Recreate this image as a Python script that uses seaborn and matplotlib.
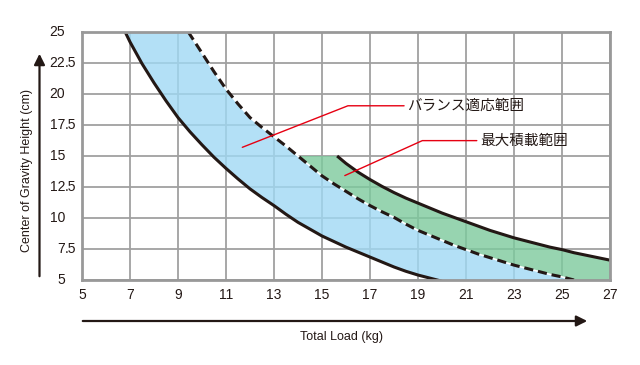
import matplotlib
matplotlib.use("Agg")
import matplotlib.pyplot as plt
import seaborn as sns
import numpy as np

# curve readings (Total Load kg -> Center of Gravity Height cm)
lower_x = [6.8, 7, 7.5, 8, 8.5, 9, 9.5, 10, 10.5, 11, 11.5, 12, 12.5, 13, 13.5, 14,
           14.5, 15, 15.5, 16, 16.5, 17, 17.5, 18, 18.5, 19, 19.5, 20]
lower_y = [25.0, 24.2, 22.45, 20.9, 19.45, 18.1, 16.95, 15.9, 14.9, 14.0, 13.15, 12.35,
           11.65, 11.0, 10.3, 9.65, 9.1, 8.55, 8.1, 7.65, 7.25, 6.85, 6.45, 6.05, 5.7,
           5.4, 5.15, 4.9]

dash_x = [9.43, 10, 10.5, 11, 11.5, 12, 12.5, 13, 13.5, 14, 14.5, 15, 15.5, 16, 16.5,
          17, 17.5, 18, 18.5, 19, 19.5, 20, 20.5, 21, 21.5, 22, 22.5, 23, 23.5, 24,
          24.5, 25, 25.5]
dash_y = [25.0, 23.3, 21.8, 20.4, 19.2, 18.1, 17.3, 16.55, 15.8, 15.0, 14.2, 13.4,
          12.75, 12.15, 11.55, 11.0, 10.5, 10.05, 9.5, 9.0, 8.6, 8.2, 7.8, 7.45, 7.1,
          6.8, 6.5, 6.2, 5.95, 5.7, 5.45, 5.25, 5.0]

upper_x = [15.63, 16, 16.5, 17, 17.5, 18, 18.5, 19, 19.5, 20, 20.5, 21, 21.5, 22, 22.5,
           23, 23.5, 24, 24.5, 25, 25.5, 26, 26.5, 27]
upper_y = [15.0, 14.4, 13.7, 13.1, 12.55, 12.05, 11.6, 11.2, 10.8, 10.4, 10.05, 9.7,
           9.35, 9.0, 8.7, 8.4, 8.15, 7.9, 7.65, 7.45, 7.2, 7.0, 6.8, 6.6]

x_ticks = [5, 7, 9, 11, 13, 15, 17, 19, 21, 23, 25, 27]
y_ticks = [5, 7.5, 10, 12.5, 15, 17.5, 20, 22.5, 25]

label_balance = "バランス適応範囲"
label_maxload = "最大積載範囲"

sns.set_theme(style="white")
plt.rcParams['font.family'] = ['Liberation Sans Narrow', 'Liberation Sans', 'DejaVu Sans']

fig = plt.figure(figsize=(6.4, 3.65), dpi=100)
ax = fig.add_axes([82 / 640, 1 - 280 / 365, 528 / 640, 248 / 365])
ax.set_xlim(5, 27)
ax.set_ylim(5, 25)

ink = '#231815'
blue = '#a0d9f4'
green = '#7dca9d'

# grid sits under the semi-transparent bands
ax.set_xticks(x_ticks)
ax.set_yticks(y_ticks)
ax.grid(True, color='#a0a0a0', lw=1.3, zorder=0)
ax.set_axisbelow(True)

# blue band: lower solid curve, along the bottom edge, dashed curve back
ax.fill(np.r_[lower_x, dash_x[-1:], dash_x[::-1]], np.r_[lower_y, dash_y[-1:], dash_y[::-1]],
        color=blue, alpha=0.8, lw=0, zorder=1)

# green band: dashed from y=15 down, bottom-right corner, upper solid back
i14 = dash_x.index(14)
gx = np.r_[dash_x[i14:], [27], upper_x[::-1]]
gy = np.r_[dash_y[i14:], [5.0], upper_y[::-1]]
ax.fill(gx, gy, color=green, alpha=0.8, lw=0, zorder=1)

line_kw = dict(color=ink, lw=2.2, sort=False, zorder=3,
               solid_joinstyle='round', solid_capstyle='butt')
sns.lineplot(x=lower_x, y=lower_y, ax=ax, **line_kw)
sns.lineplot(x=upper_x, y=upper_y, ax=ax, **line_kw)
ax.plot(dash_x, dash_y, color='white', lw=1.2, zorder=3)
ax.plot(dash_x, dash_y, color=ink, lw=2.2, dashes=(3, 1.6), zorder=4)

for s in ax.spines.values():
    s.set_color('#999999')
    s.set_linewidth(2)
    s.set_zorder(5)

# tick labels: x centred, y aligned on the decimal point
ax.set_xticklabels([str(v) for v in x_ticks], fontsize=10, color=ink)
ax.tick_params(axis='x', length=0, pad=6)
ax.set_yticklabels([])
ax.tick_params(axis='y', length=0)
ytr = ax.get_yaxis_transform()
for v in y_ticks:
    ax.text(-0.032, v, str(int(v)), transform=ytr, ha='right', va='center',
            fontsize=10, color=ink, clip_on=False)
    if v != int(v):
        ax.text(-0.032, v, ".5", transform=ytr, ha='left', va='center',
                fontsize=10, color=ink, clip_on=False)

# callouts
red = '#e60012'
ax.plot([11.68, 16.08, 18.42], [15.7, 19.05, 19.05], color=red, lw=1, zorder=6)
ax.text(18.55, 19.05, label_balance, ha='left', va='center', fontsize=10.5,
        family=['Noto Sans CJK JP'], color=ink, zorder=6)
ax.plot([15.95, 19.18, 21.45], [13.42, 16.24, 16.24], color=red, lw=1, zorder=6)
ax.text(21.6, 16.24, label_maxload, ha='left', va='center', fontsize=10.5,
        family=['Noto Sans CJK JP'], color=ink, zorder=6)

ax.set_xlabel('')
ax.set_ylabel('')

# axis arrows and titles
fig.patches.append(matplotlib.patches.FancyArrowPatch(
    (39.5 / 640, 1 - 279 / 365), (39.5 / 640, 1 - 51 / 365), transform=fig.transFigure,
    arrowstyle='-|>', mutation_scale=16, lw=1.6, color=ink))
fig.patches.append(matplotlib.patches.FancyArrowPatch(
    (80 / 640, 1 - 321 / 365), (590 / 640, 1 - 321 / 365), transform=fig.transFigure,
    arrowstyle='-|>', mutation_scale=16, lw=1.6, color=ink))
fig.text(27 / 640, 1 - 170 / 365, 'Center of Gravity Height (cm)', rotation=90,
         ha='center', va='center', fontsize=9, color=ink)
fig.text(341 / 640, 1 - 337 / 365, 'Total Load (kg)', ha='center', va='center',
         fontsize=9, color=ink)

fig.savefig('out.png', dpi=100, facecolor='white')
